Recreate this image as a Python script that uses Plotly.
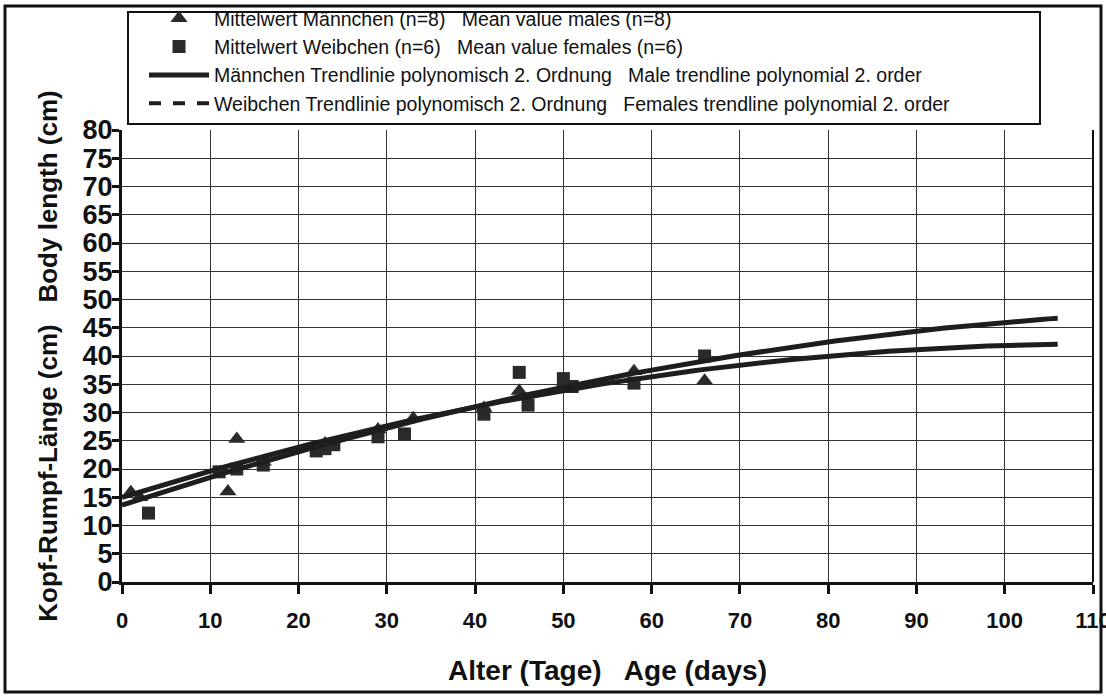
import numpy as np
import plotly.graph_objects as go

# ---- data ----
male_age = [1, 2, 12, 13, 16, 23, 29, 33, 41, 45, 50, 58, 66]
male_len = [15.9, 15.0, 16.0, 25.3, 21.3, 24.5, 27.0, 29.0, 30.8, 33.8, 35.0, 37.3, 35.6]

female_age = [3, 11, 13, 16, 22, 23, 24, 29, 32, 41, 45, 46, 50, 51, 58, 66]
female_len = [12.2, 19.5, 20.0, 20.7, 23.2, 23.6, 24.3, 25.7, 26.2, 29.7, 37.1, 31.3, 36.0, 34.6, 35.2, 40.0]

# 2nd-order polynomial trend lines (coefficients: c2, c1, c0)
male_trend_coef = [-0.00219, 0.4876, 15.0]
female_trend_coef = [-0.001884, 0.5119, 13.6]
trend_age_range = [0, 106]

x_ticks = list(range(0, 111, 10))
y_ticks = list(range(0, 81, 5))

legend_names = [
    "Mittelwert Männchen (n=8)   Mean value males (n=8)",
    "Mittelwert Weibchen (n=6)   Mean value females (n=6)",
    "Männchen Trendlinie polynomisch 2. Ordnung   Male trendline polynomial 2. order",
    "Weibchen Trendlinie polynomisch 2. Ordnung   Females trendline polynomial 2. order",
]

# ---- figure ----
W, H = 1106, 697
L, R, T, B = 122, 13, 130, 115
pw, ph = W - L - R, H - T - B

def px2paper_x(px):
    return (px - L) / pw

def px2paper_y(py):
    return (H - B - py) / ph

font_family = "Liberation Sans, Arial, sans-serif"
ink = "#2a2a2a"

tx = np.linspace(trend_age_range[0], trend_age_range[1], 200)
male_trend = np.polyval(male_trend_coef, tx)
female_trend = np.polyval(female_trend_coef, tx)

fig = go.Figure()
fig.add_trace(go.Scatter(x=male_age, y=male_len, mode="markers", name=legend_names[0],
                         marker=dict(symbol="triangle-up", size=15, color=ink)))
fig.add_trace(go.Scatter(x=female_age, y=female_len, mode="markers", name=legend_names[1],
                         marker=dict(symbol="square", size=13, color=ink)))
fig.add_trace(go.Scatter(x=tx, y=male_trend, mode="lines", name=legend_names[2],
                         line=dict(color="#1e1e1e", width=5)))
fig.add_trace(go.Scatter(x=tx, y=female_trend, mode="lines", name=legend_names[3],
                         line=dict(color="#1e1e1e", width=5), showlegend=False))
# legend-only entry for the dashed female trend line
fig.add_trace(go.Scatter(x=[None], y=[None], mode="lines", name=legend_names[3],
                         line=dict(color="#1e1e1e", width=4, dash="dash")))

fig.update_layout(
    width=W, height=H,
    margin=dict(l=L, r=R, t=T, b=B, autoexpand=False),
    paper_bgcolor="white", plot_bgcolor="white",
    font=dict(family=font_family, color="#111"),
    showlegend=True,
    legend=dict(x=px2paper_x(144), y=px2paper_y(-1), xanchor="left", yanchor="top",
                bgcolor="rgba(0,0,0,0)", borderwidth=0,
                font=dict(family=font_family, size=19.5, color="#111"),
                itemwidth=60, tracegroupgap=0),
    xaxis=dict(range=[0, 110], tickvals=x_ticks, ticktext=[str(v) for v in x_ticks],
               showgrid=True, gridcolor="#333", gridwidth=1,
               showline=True, linecolor="#111", linewidth=3,
               ticks="outside", ticklen=9, tickwidth=3, tickcolor="#111",
               tickfont=dict(family=font_family, size=22, color="#111", weight="bold"),
               ticklabeloverflow="allow", automargin=False, ticklabelstandoff=8,
               zeroline=False,
               title=dict(text="<b>Alter (Tage)   Age (days)</b>", standoff=28,
                          font=dict(family=font_family, size=28, color="#111"))),
    yaxis=dict(range=[0, 80], tickvals=y_ticks, ticktext=[str(v) for v in y_ticks],
               showgrid=True, gridcolor="#333", gridwidth=1,
               showline=True, linecolor="#111", linewidth=3,
               ticks="outside", ticklen=7, tickwidth=3, tickcolor="#111",
               tickfont=dict(family=font_family, size=27, color="#111", weight="bold"),
               automargin=False, ticklabelstandoff=-6,
               zeroline=False,
               title=dict(text="<b>Kopf-Rumpf-Länge (cm)   Body length (cm)</b>", standoff=18,
                          font=dict(family=font_family, size=26, color="#111"))),
    shapes=[
        # outer frame
        dict(type="rect", xref="paper", yref="paper",
             x0=px2paper_x(5), x1=px2paper_x(1101), y0=px2paper_y(692), y1=px2paper_y(6),
             line=dict(color="#111", width=3), fillcolor="rgba(0,0,0,0)", layer="below"),
        # legend box
        dict(type="rect", xref="paper", yref="paper",
             x0=px2paper_x(128), x1=px2paper_x(1040), y0=px2paper_y(124), y1=px2paper_y(12),
             line=dict(color="#111", width=2), fillcolor="rgba(0,0,0,0)", layer="below"),
        # right border of plot area
        dict(type="line", xref="paper", yref="paper", x0=1, x1=1, y0=0, y1=1,
             line=dict(color="#111", width=2)),
    ],
)

fig.write_html("out.html", config={"displayModeBar": False},
               post_script="document.body.style.margin='0';document.body.style.overflow='hidden';")
